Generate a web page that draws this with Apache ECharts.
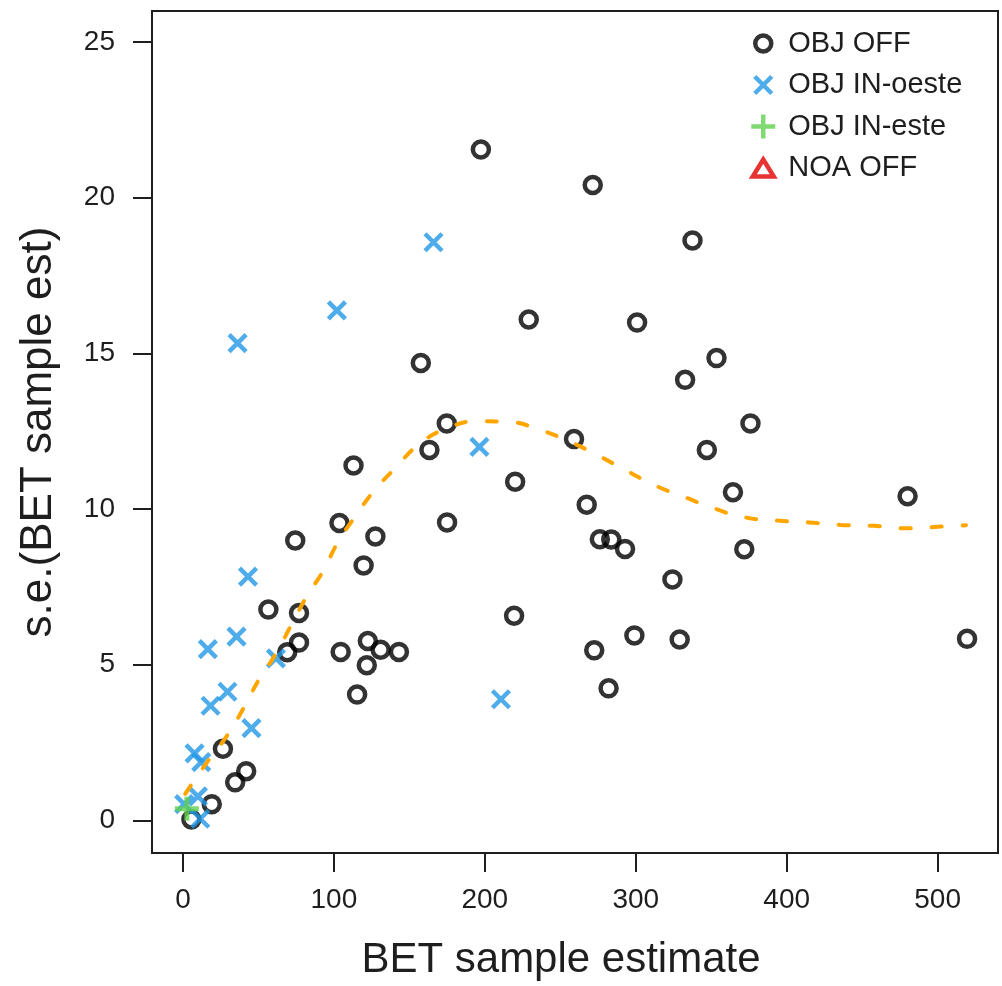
<!DOCTYPE html>
<html>
<head>
<meta charset="utf-8">
<script src="https://cdn.jsdelivr.net/npm/echarts@6/dist/echarts.min.js"></script>
<style>
    html, body {margin: 0; padding: 0; background: #fff;}
    #chart {width: 1002px; height: 986px;}
</style>
</head>
<body>
<div id="chart"></div>
<script>
    // OBJ OFF
    let offX = [197.4, 271.5, 337.6, 229.1, 300.9, 157.6, 353.5, 332.7, 174.8, 376.0, 259.1, 163.3, 347.1, 113.0, 220.1, 480.1, 364.4,
        267.5, 103.7, 175.0, 127.5, 74.4, 276.2, 283.8, 292.9, 371.9, 119.7, 324.3, 56.6, 76.9, 219.4, 299.1, 329.1, 519.5,
        122.5, 76.9, 131.0, 272.5, 69.1, 104.5, 143.1, 121.8, 282.0, 115.4, 26.5, 41.9, 34.6, 19.1, 5.6]
    let offY = [21.55, 20.41, 18.63, 16.09, 15.99, 14.69, 14.85, 14.15, 12.75, 12.75, 12.25, 11.90, 11.90, 11.40, 10.88, 10.41, 10.54,
        10.14, 9.55, 9.57, 9.12, 8.99, 9.03, 9.02, 8.72, 8.71, 8.19, 7.74, 6.77, 6.66, 6.57, 5.94, 5.81, 5.83,
        5.76, 5.71, 5.48, 5.46, 5.40, 5.41, 5.41, 4.98, 4.24, 4.04, 2.30, 1.58, 1.22, 0.52, 0.03]
    // OBJ IN-oeste
    let oesteX = [166.0, 102.0, 36.2, 196.4, 43.1, 35.5, 16.5, 61.6, 29.5, 18.3, 45.4, 210.7, 7.7, 12.1, 9.9, 0.8, 11.5]
    let oesteY = [18.57, 16.38, 15.33, 12.00, 7.83, 5.90, 5.50, 5.20, 4.13, 3.68, 2.96, 3.89, 2.15, 1.87, 0.77, 0.52, 0.05]
    // OBJ IN-este
    let esteX = [2.6]
    let esteY = [0.37]
    // NOA OFF (nothing visible in the plot)
    let noaX = []
    let noaY = []
    // smooth fit (dashed)
    let fitX = [1.5, 15.9, 28.9, 40.8, 50.2, 60.9, 72.7, 82.2, 92.9, 102.4, 114.1, 126.2, 140.6, 156.0, 174.8, 195.8, 215.6,
        236.6, 256.5, 274.2, 292.9, 311.7, 331.5, 351.4, 371.5, 393.6, 414.7, 435.8, 457.9, 480.1, 500.0, 518.8]
    let fitY = [0.85, 1.86, 2.70, 3.66, 4.51, 5.30, 6.36, 7.21, 8.01, 8.91, 9.76, 10.56, 11.31, 12.06, 12.59, 12.82, 12.80,
        12.54, 12.16, 11.74, 11.26, 10.78, 10.40, 10.03, 9.74, 9.63, 9.57, 9.49, 9.46, 9.38, 9.43, 9.48]

    let xTicks = [0, 100, 200, 300, 400, 500]
    let yTicks = [0, 5, 10, 15, 20, 25]

    function pairs(xs, ys) {
        return xs.map(function (x, i) {
            return [x, ys[i]]
        })
    }

    // symbols share a 24x24 box so one symbolSize fits all
    let symCircle = 'path://M0,0M24,24M4,12A8,8,0,1,1,20,12A8,8,0,1,1,4,12Z'
    let symCross = 'path://M0,0M24,24M3.5,3.5L20.5,20.5M20.5,3.5L3.5,20.5'
    let symPlus = 'path://M0,0M24,24M12,0L12,24M0,12L24,12'
    let symTriangle = 'path://M0,0M24,24M12,3.5L22.5,20.5L1.5,20.5Z'

    let font = 'Liberation Sans, Arial, sans-serif'
    let ink = '#1e1e1e'

    function pointSeries(name, data, symbol, color, lw) {
        return {
            name: name,
            type: 'scatter',
            symbol: symbol,
            symbolSize: 24,
            itemStyle: {
                color: 'rgba(0,0,0,0)',
                borderColor: color,
                borderWidth: lw
            },
            emphasis: {disabled: true},
            data: data
        }
    }

    let chart = echarts.init(document.getElementById('chart'))
    let option = {
        backgroundColor: '#fff',
        animation: false,
        grid: {
            left: 152,
            right: 4,
            top: 11,
            bottom: 130,
            show: true,
            borderColor: ink,
            borderWidth: 2
        },
        legend: {
            orient: 'vertical',
            left: 744,
            top: 24,
            itemWidth: 24,
            itemHeight: 24,
            itemGap: 12.5,
            align: 'left',
            itemStyle: {borderWidth: 4.5},
            textStyle: {
                fontFamily: font,
                fontSize: 29,
                color: ink,
                padding: [0, 0, 0, 8]
            },
            data: ['OBJ OFF', 'OBJ IN-oeste', 'OBJ IN-este', 'NOA OFF']
        },
        xAxis: {
            type: 'value',
            min: -20.5,
            max: 540,
            name: 'BET sample estimate',
            nameLocation: 'middle',
            nameGap: 86,
            nameTextStyle: {
                fontFamily: font,
                fontSize: 42,
                color: ink,
                padding: [0, 28, 0, 0]
            },
            splitLine: {show: false},
            axisLine: {show: false, onZero: false},
            axisTick: {
                show: true,
                customValues: xTicks,
                length: 19,
                lineStyle: {color: ink, width: 2}
            },
            axisLabel: {
                customValues: xTicks,
                margin: 33,
                fontFamily: font,
                fontSize: 28,
                color: ink
            }
        },
        yAxis: {
            type: 'value',
            min: -1.05,
            max: 26,
            name: 's.e.(BET sample est)',
            nameLocation: 'middle',
            nameGap: 91,
            nameTextStyle: {
                fontFamily: font,
                fontSize: 44,
                color: ink
            },
            splitLine: {show: false},
            axisLine: {show: false, onZero: false},
            axisTick: {
                show: true,
                customValues: yTicks,
                length: 19,
                lineStyle: {color: ink, width: 2}
            },
            axisLabel: {
                customValues: yTicks,
                margin: 37,
                fontFamily: font,
                fontSize: 28,
                color: ink
            }
        },
        series: [
            pointSeries('OBJ OFF', pairs(offX, offY), symCircle, '#000000', 4.5),
            pointSeries('OBJ IN-oeste', pairs(oesteX, oesteY), symCross, '#2297E6', 4.5),
            pointSeries('OBJ IN-este', pairs(esteX, esteY), symPlus, '#61D04F', 5),
            pointSeries('NOA OFF', pairs(noaX, noaY), symTriangle, '#E00000', 4.5),
            {
                name: 'fit',
                type: 'line',
                smooth: true,
                showSymbol: false,
                z: 5,
                lineStyle: {
                    color: '#FFA500',
                    width: 4,
                    type: [10, 21],
                    cap: 'round'
                },
                emphasis: {disabled: true},
                data: pairs(fitX, fitY)
            }
        ]
    }
    chart.setOption(option)
</script>
</body>
</html>
